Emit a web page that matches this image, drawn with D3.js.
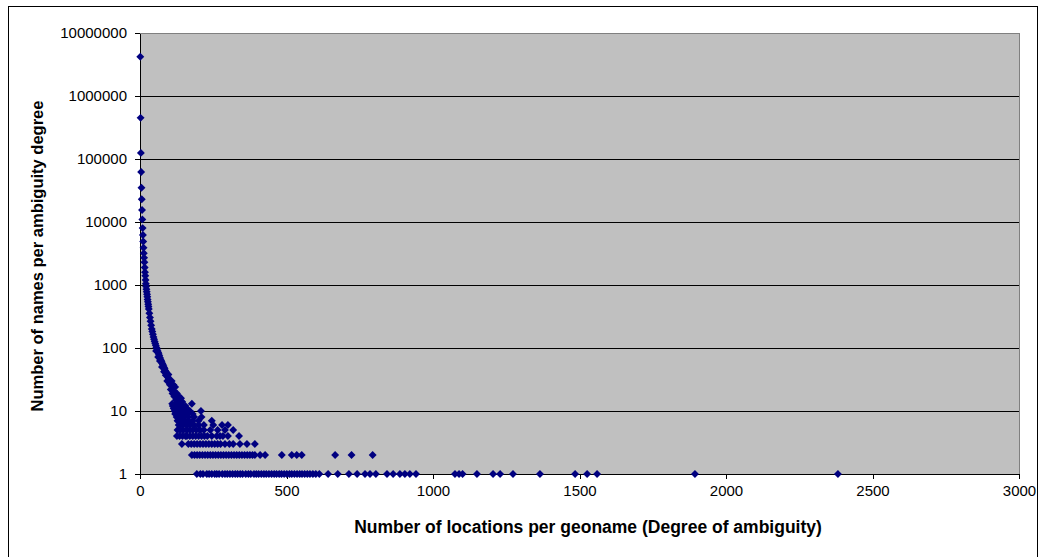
<!DOCTYPE html>
<html>
<head>
<meta charset="utf-8">
<script src="https://cdn.jsdelivr.net/npm/d3@7"></script>
<style>
  body { margin: 0; background: #fff; }
  svg { display: block; font-family: "Liberation Sans", Arial, sans-serif; }
</style>
</head>
<body>
<div id="chart"></div>
<script>
// head of the distribution: degree -> number of names
const headDegrees = [1, 2, 3, 4, 5, 6, 7, 8, 9, 10, 11, 12, 13, 14, 15, 16, 17, 18, 19, 20,
    21, 22, 23, 24, 25, 26, 27, 28, 29, 30, 32, 34, 36, 38, 40, 42, 44, 46, 48, 50,
    52, 54, 56, 58, 60, 62, 64, 66, 68, 70, 72, 74, 76, 78, 80, 82, 84, 86, 88, 90,
    92, 94, 96, 98, 100, 103, 106, 109, 112, 115, 118, 121, 124, 127, 130, 134, 138, 142, 146, 150];
const headCounts = [4200000, 450000, 125000, 62000, 35000, 23000, 15500, 11000, 8000, 6200,
    4900, 3900, 3200, 2700, 2300, 1900, 1600, 1400, 1200, 1050,
    950, 860, 780, 710, 650, 590, 540, 495, 455, 415, 355, 305, 265, 230, 200, 182, 165, 150, 138, 127,
    118, 110, 102, 96, 90, 85, 80, 75, 70, 66, 63, 60, 57, 54, 52, 49, 47, 44, 42, 40,
    38, 36, 34, 32, 31, 29, 27, 25, 23, 21, 20, 19, 17, 16, 15, 14, 13, 12, 11, 10];

// noisy points around the head curve
const noiseDegrees = [55, 62, 68, 75, 82, 88, 93, 97, 102, 105, 108, 111, 114, 117, 120, 123, 126, 129, 133, 136, 140, 144, 155, 160];
const noiseCounts = [90, 72, 62, 50, 42, 37, 30, 38, 26, 22, 30, 19, 26, 17, 24, 15, 19, 13, 17, 12, 16, 14, 12, 11];

// scattered tail, grouped by count
const deg13 = [110, 122, 177];
const deg12 = [112, 125, 140];
const deg11 = [115, 130, 148];
const deg10 = [118, 135, 150, 170, 208];
const deg9 = [120, 132, 145, 160, 180];
const deg8 = [125, 138, 150, 165, 185, 210];
const deg7 = [128, 140, 152, 165, 180, 200, 245];
const deg6 = [132, 145, 158, 170, 185, 200, 218, 250, 280, 300];
const deg5 = [128, 138, 148, 160, 170, 180, 192, 205, 218, 240, 265, 290, 318];
const deg4 = [126, 135, 145, 155, 160, 170, 180, 190, 200, 210, 220, 230, 245, 262, 273, 283, 300, 338];
const deg3 = [143, 165, 175, 185, 195, 205, 215, 225, 235, 245, 255, 265, 275, 290, 305, 318, 341, 365, 392];
const deg2 = [177, 186, 195, 204, 213, 222, 231, 240, 249, 258, 267, 276, 285, 294, 303, 312, 321,
    330, 339, 348, 357, 366, 375, 384, 392, 410, 427, 484, 518, 535, 552, 666, 722, 794];
const deg1 = [194, 206, 215, 228, 236, 245, 255, 262, 270, 281, 290, 298, 307, 316, 325, 333, 342,
    350, 361, 370, 378, 389, 397, 405, 414, 423, 431, 440, 449, 458, 466, 475, 483, 492, 501, 510,
    518, 527, 536, 545, 553, 562, 571, 580, 590, 600, 612, 642, 675, 713, 741, 768, 785, 805, 843,
    864, 887, 904, 921, 942, 1075, 1089, 1101, 1150, 1205, 1229, 1273, 1365, 1485, 1526, 1560, 1894, 2382];

const xTicks = [0, 500, 1000, 1500, 2000, 2500, 3000];
const yTicks = [1, 10, 100, 1000, 10000, 100000, 1000000, 10000000];

const tail = [[13, deg13], [12, deg12], [11, deg11], [10, deg10], [9, deg9], [8, deg8], [7, deg7],
    [6, deg6], [5, deg5], [4, deg4], [3, deg3], [2, deg2], [1, deg1]];

let points = headDegrees.map((d, i) => ({x: d, y: headCounts[i]}));
noiseDegrees.forEach((d, i) => points.push({x: d, y: noiseCounts[i]}));
tail.forEach(([c, list]) => list.forEach(d => points.push({x: d, y: c})));

let totalWidth = 1043,
    totalHeight = 557;
let margin = {top: 33, right: 24, bottom: 83, left: 140};
let width = 1019 - margin.left,
    height = 474 - margin.top;

let svg = d3.select("#chart").append("svg")
    .attr("width", totalWidth)
    .attr("height", totalHeight);

// outer frame
svg.append("rect")
    .attr("x", 8.5).attr("y", 6.5)
    .attr("width", 1029).attr("height", 560)
    .attr("fill", "#fff")
    .attr("stroke", "#000")
    .attr("stroke-width", 1);

let g = svg.append("g")
    .attr("transform", "translate(" + margin.left + "," + margin.top + ")");

let xScale = d3.scaleLinear().domain([0, 3000]).range([0, width]);
let yScale = d3.scaleLog().domain([1, 10000000]).range([height, 0]);

g.append("rect")
    .attr("width", width).attr("height", height)
    .attr("fill", "#c0c0c0")
    .attr("stroke", "#808080")
    .attr("stroke-width", 1)
    .attr("shape-rendering", "crispEdges");

// gridlines
g.selectAll(".grid")
    .data(yTicks.slice(1, -1))
    .enter().append("line")
    .attr("class", "grid")
    .attr("x1", 0).attr("x2", width)
    .attr("y1", d => Math.round(yScale(d)) + 0.5)
    .attr("y2", d => Math.round(yScale(d)) + 0.5)
    .attr("stroke", "#000")
    .attr("stroke-width", 1);

let xAxis = d3.axisBottom(xScale).tickValues(xTicks).tickSize(5).tickSizeOuter(0).tickPadding(6)
    .tickFormat(d3.format("d"));
let yAxis = d3.axisLeft(yScale).tickValues(yTicks).tickSize(5).tickSizeOuter(0).tickPadding(8)
    .tickFormat(d3.format("d"));

let gx = g.append("g")
    .attr("transform", "translate(0," + height + ")")
    .call(xAxis);
let gy = g.append("g").call(yAxis);

[gx, gy].forEach(a => {
    a.selectAll("path, line").attr("stroke", "#000").attr("shape-rendering", "crispEdges");
    a.selectAll("text").attr("font-size", 15).attr("fill", "#000")
        .attr("font-family", "'Liberation Sans', Arial, sans-serif");
});

// diamonds
let diamond = d3.symbol().type(d3.symbolDiamond2).size(40);
g.selectAll(".pt")
    .data(points)
    .enter().append("path")
    .attr("class", "pt")
    .attr("d", diamond)
    .attr("transform", d => "translate(" + xScale(d.x) + "," + yScale(d.y) + ")")
    .attr("fill", "#000080");

// axis titles
svg.append("text")
    .attr("x", 588).attr("y", 533)
    .attr("text-anchor", "middle")
    .attr("font-size", 17.5).attr("font-weight", "bold")
    .text("Number of locations per geoname (Degree of ambiguity)");

svg.append("text")
    .attr("transform", "translate(43,256) rotate(-90)")
    .attr("text-anchor", "middle")
    .attr("font-size", 16.5).attr("font-weight", "bold")
    .text("Number of names per ambiguity degree");
</script>
</body>
</html>
